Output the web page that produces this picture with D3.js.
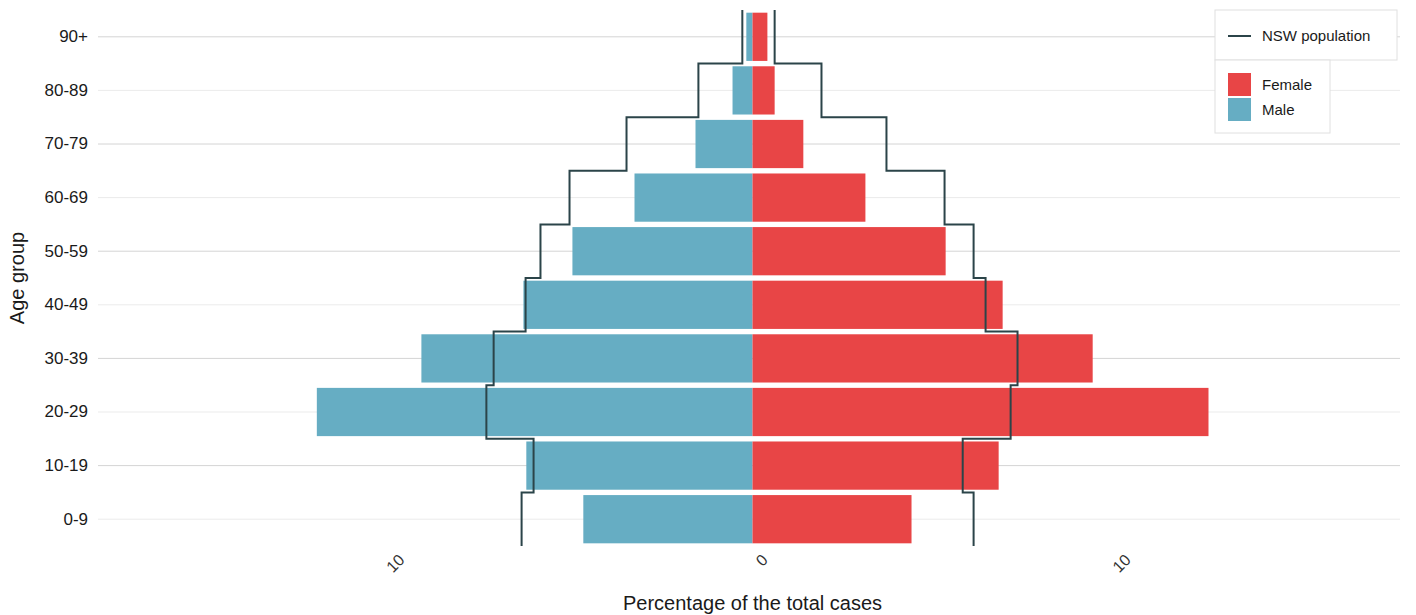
<!DOCTYPE html>
<html><head><meta charset="utf-8">
<script src="https://cdn.jsdelivr.net/npm/d3@7"></script>
<style>body{margin:0;background:#fff;font-family:Arial,"Liberation Sans",sans-serif}</style>
</head><body>
<script>
var ageGroups = ['0-9','10-19','20-29','30-39','40-49','50-59','60-69','70-79','80-89','90+'];
var maleCases = [4.66, 6.23, 12.0, 9.12, 6.31, 4.96, 3.25, 1.57, 0.55, 0.17];
var femaleCases = [4.38, 6.78, 12.56, 9.37, 6.89, 5.32, 3.11, 1.40, 0.61, 0.41];
var malePop = [6.36, 6.03, 7.33, 7.13, 6.25, 5.84, 5.04, 3.47, 1.49, 0.28];
var femalePop = [6.09, 5.79, 7.11, 7.30, 6.42, 6.09, 5.29, 3.69, 1.90, 0.61];
var xTicks = [-10, 0, 10];

var W = 1416, H = 615;
var svg = d3.select('body').append('svg').attr('width', W).attr('height', H);

var x = d3.scaleLinear().domain([-18, 18]).range([99, 1406]);
var y = d3.scaleBand().domain(ageGroups.slice().reverse()).range([10, 546]).paddingInner(0.1).paddingOuter(0.05);
var step = y.step();

// gridlines
svg.append('g').selectAll('line').data(ageGroups).join('line')
  .attr('x1', 98).attr('x2', 1400)
  .attr('y1', function(d){ return y(d) + y.bandwidth()/2; })
  .attr('y2', function(d){ return y(d) + y.bandwidth()/2; })
  .attr('stroke', function(d,i){ return i % 2 ? '#d4d4d4' : '#ebebeb'; }).attr('stroke-width', 1);

// bars
svg.append('g').selectAll('rect').data(ageGroups).join('rect')
  .attr('x', function(d,i){ return x(-maleCases[i]); })
  .attr('width', function(d,i){ return x(0) - x(-maleCases[i]); })
  .attr('y', function(d){ return y(d); }).attr('height', y.bandwidth())
  .attr('fill', '#66adc3');
svg.append('g').selectAll('rect').data(ageGroups).join('rect')
  .attr('x', x(0))
  .attr('width', function(d,i){ return x(femaleCases[i]) - x(0); })
  .attr('y', function(d){ return y(d); }).attr('height', y.bandwidth())
  .attr('fill', '#e84546');

// population step lines
function stepPoints(vals, sign) {
  var pts = [];
  ageGroups.forEach(function(g, i) {
    var c = y(g) + y.bandwidth()/2;
    pts.push([x(sign*vals[i]), c + step/2]);
    pts.push([x(sign*vals[i]), c - step/2]);
  });
  return pts;
}
var line = d3.line();
[[malePop, -1], [femalePop, 1]].forEach(function(p) {
  svg.append('path').attr('d', line(stepPoints(p[0], p[1])))
    .attr('fill', 'none').attr('stroke', '#2b4449').attr('stroke-width', 2);
});

// axes
var yAxis = svg.append('g').attr('transform', 'translate(92,0)')
  .call(d3.axisLeft(y).tickSize(0).tickPadding(4));
yAxis.select('.domain').remove();
yAxis.selectAll('text').attr('font-size', 17).attr('fill', '#1a1a1a');

var xAxis = svg.append('g').attr('transform', 'translate(0,552)')
  .call(d3.axisBottom(x).tickValues(xTicks).tickSize(0).tickFormat(function(d){ return Math.abs(d); }));
xAxis.select('.domain').remove();
xAxis.selectAll('text').attr('font-size', 16).attr('fill', '#333')
  .attr('text-anchor', 'end').attr('dx', '0.3em').attr('dy', '0.9em')
  .attr('transform', 'rotate(-45)');

svg.append('text').attr('x', x(0)).attr('y', 610).attr('text-anchor', 'middle')
  .attr('font-size', 20).attr('fill', '#1a1a1a').text('Percentage of the total cases');
svg.append('text').attr('transform', 'translate(24,' + (10 + 536/2) + ') rotate(-90)')
  .attr('text-anchor', 'middle').attr('font-size', 20).attr('fill', '#1a1a1a').text('Age group');

// legend
var lg = svg.append('g');
lg.append('rect').attr('x', 1215).attr('y', 10).attr('width', 182).attr('height', 50)
  .attr('fill', '#fff').attr('stroke', '#e0e0e0');
lg.append('line').attr('x1', 1228).attr('x2', 1251).attr('y1', 36).attr('y2', 36)
  .attr('stroke', '#2b4449').attr('stroke-width', 2);
lg.append('text').attr('x', 1262).attr('y', 41).attr('font-size', 15).attr('fill', '#1a1a1a').text('NSW population');
lg.append('rect').attr('x', 1215).attr('y', 60).attr('width', 115).attr('height', 73)
  .attr('fill', '#fff').attr('stroke', '#e0e0e0');
var items = [['Female', '#e84546'], ['Male', '#66adc3']];
lg.selectAll('g.it').data(items).join('g').attr('class', 'it')
  .each(function(d, i) {
    var g = d3.select(this);
    g.append('rect').attr('x', 1228).attr('y', 73 + i*25).attr('width', 23).attr('height', 23).attr('fill', d[1]);
    g.append('text').attr('x', 1262).attr('y', 90 + i*25).attr('font-size', 15).attr('fill', '#1a1a1a').text(d[0]);
  });
</script>
</body></html>
